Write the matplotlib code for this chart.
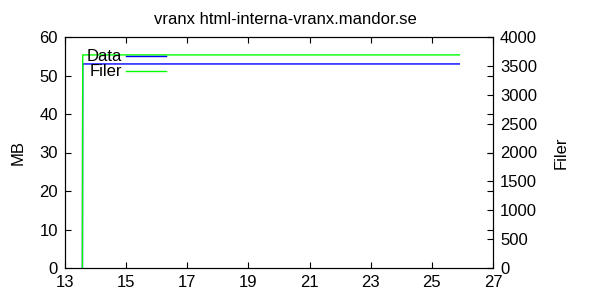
import matplotlib
matplotlib.use("Agg")
import matplotlib.pyplot as plt

plt.rcParams["font.family"] = ["Liberation Sans", "DejaVu Sans"]
plt.rcParams["font.size"] = 12

# tid (timme) och värden
tid = [13.57, 13.58, 25.9]
data_mb = [0, 53, 53]
filer = [0, 3690, 3690]

x_ticks = [13, 15, 17, 19, 21, 23, 25, 27]
y_ticks = [0, 10, 20, 30, 40, 50, 60]
y2_ticks = [0, 500, 1000, 1500, 2000, 2500, 3000, 3500, 4000]

fig = plt.figure(figsize=(6, 3), dpi=100)
ax = fig.add_axes([65 / 600, 32 / 300, 428 / 600, 231 / 300])
ax2 = ax.twinx()

l1, = ax.plot(tid, data_mb, color="#0000ff", linewidth=1.0, label="Data")
l2, = ax2.plot(tid, filer, color="#00ff00", linewidth=1.0, label="Filer")

ax.set_xlim(13, 27)
ax.set_ylim(0, 60)
ax2.set_ylim(0, 4000)
ax.set_xticks(x_ticks)
ax.set_yticks(y_ticks)
ax2.set_yticks(y2_ticks)

ax.tick_params(direction="in", length=4, width=0.8, top=True, right=True,
               labelright=False, pad=5)
ax2.tick_params(direction="in", length=4, width=0.8, pad=5)
for a in (ax, ax2):
    for s in a.spines.values():
        s.set_linewidth(0.8)

ax.set_ylabel("MB", labelpad=10)
ax2.set_ylabel("Filer", labelpad=12)
fig.text(285 / 600, 1 - 20 / 300, "vranx html-interna-vranx.mandor.se",
         ha="center", va="center")

leg = ax2.legend([l1, l2], ["Data", "Filer"], loc="upper left",
                 bbox_to_anchor=(0.036, 0.975), frameon=False, markerfirst=False,
                 handlelength=2.4, handletextpad=0.2, labelspacing=0.0,
                 borderaxespad=0)

fig.savefig("out.png", dpi=100)
